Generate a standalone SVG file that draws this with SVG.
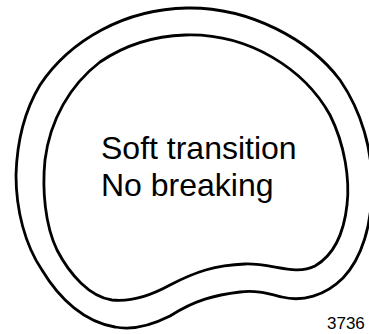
<svg xmlns="http://www.w3.org/2000/svg" width="369" height="334" viewBox="0 0 369 334">
<style>
.ln{fill:none;stroke:#000;stroke-width:2.8;stroke-linejoin:round}
.t{font-family:"Liberation Sans",Arial,sans-serif;fill:#000}
</style>
<rect width="369" height="334" fill="#fff"/>
<g id="outer-ring">
<path class="ln" d="M187,8 C250,7 310,40 340,80 C362,112 372,150 372,185 C372,225 362,258 343,278 C325,296 302,302 282,297 C266,293 255,290 240,292 C215,295 195,300 170,316 C150,326 130,330 115,327 C85,322 60,300 42,270 C25,245 16,210 16,175 C17,140 25,110 40,85 C70,40 125,9 187,8 Z"/>
</g>
<g id="inner-ring">
<path class="ln" d="M185,35 C250,33 305,70 330,115 C345,145 350,180 347,205 C344,232 334,255 315,266 C295,276 272,263 245,264 C215,265 195,272 170,285 C150,296 130,302 112,300 C90,297 70,275 57,250 C45,225 42,190 45,160 C50,120 70,85 100,62 C125,45 155,36 185,35 Z"/>
</g>
<g id="label">
<text class="t" x="101" y="159" font-size="32">Soft transition</text>
<text class="t" x="101" y="196" font-size="32">No breaking</text>
</g>
<text class="t" x="327" y="329" font-size="17">3736</text>
</svg>
